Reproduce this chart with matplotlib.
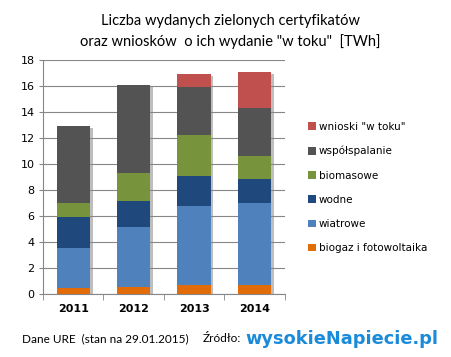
import matplotlib.pyplot as plt
import matplotlib.patheffects as pe
from matplotlib.patches import Patch

years = ["2011", "2012", "2013", "2014"]
series_names = ["biogaz i fotowoltaika", "wiatrowe", "wodne", "biomasowe",
                "współspalanie", 'wnioski "w toku"']
biogaz = [0.45, 0.54, 0.69, 0.69]
wiatrowe = [3.07, 4.59, 6.05, 6.28]
wodne = [2.38, 1.99, 2.37, 1.91]
biomasowe = [1.07, 2.22, 3.14, 1.77]
wspolspalanie = [5.95, 6.72, 3.68, 3.67]
wnioski = [0.0, 0.05, 1.0, 2.76]
colors = ["#E36C0A", "#4F81BD", "#1F497D", "#77933C", "#535353", "#C0504D"]

fig = plt.figure(figsize=(4.52, 3.57), dpi=100)
ax = fig.add_axes([0.095, 0.1765, 0.535, 0.6555])

x = range(len(years))
all_series = [biogaz, wiatrowe, wodne, biomasowe, wspolspalanie, wnioski]
totals = [sum(v) for v in zip(*all_series)]

# shadow of the whole stack, drawn once behind the bars
shadow_bars = ax.bar(x, totals, width=0.55, color="white", zorder=2)
for b in shadow_bars:
    b.set_path_effects([pe.SimplePatchShadow(offset=(2, -1.5),
                                             shadow_rgbFace="#8a8a8a", alpha=0.55)])

bottom = [0.0] * len(years)
for name, vals, c in zip(series_names, all_series, colors):
    ax.bar(x, vals, bottom=bottom, width=0.55, color=c, zorder=3)
    bottom = [b + v for b, v in zip(bottom, vals)]

ax.set_xlim(-0.5, 3.5)
ax.set_ylim(0, 18)
ax.set_yticks(range(0, 19, 2))
ax.tick_params(axis="y", labelsize=8, length=3, color="#868686", pad=3)
ax.set_xticks(list(x))
ax.set_xticklabels(years, fontsize=8, fontweight="bold")
ax.set_xticks([-0.5, 0.5, 1.5, 2.5, 3.5], minor=True)
ax.tick_params(axis="x", which="major", length=0, pad=7)
ax.tick_params(axis="x", which="minor", length=4, color="#868686")
ax.yaxis.grid(True, color="#868686", linewidth=0.8, zorder=0)
for s in ["top", "right"]:
    ax.spines[s].set_visible(False)
for s in ["left", "bottom"]:
    ax.spines[s].set_color("#868686")

handles = [Patch(facecolor=c, label=n) for c, n in zip(colors, series_names)][::-1]
fig.legend(handles=handles, loc="upper left", bbox_to_anchor=(0.66, 0.685),
           frameon=False, fontsize=7.5, handlelength=0.75, handleheight=0.75,
           handletextpad=0.3, labelspacing=1.36)

fig.text(0.51, 0.94, "Liczba wydanych zielonych certyfikatów", ha="center",
         va="center", fontsize=10.5, family="Lato")
fig.text(0.51, 0.883, 'oraz wniosków  o ich wydanie "w toku"  [TWh]', ha="center",
         va="center", fontsize=10.5, family="Lato")
fig.text(0.049, 0.052, "Dane URE  (stan na 29.01.2015)", ha="left",
         va="center", fontsize=8.5, family="Lato")
fig.text(0.449, 0.052, "Źródło:", ha="left", va="center", fontsize=8.5, family="Lato")
fig.text(0.542, 0.05, "wysokieNapiecie.pl", ha="left", va="center",
         fontsize=12.8, fontweight="heavy", color="#1B8BD9", family="DejaVu Sans")

fig.savefig("out.png", dpi=100)
